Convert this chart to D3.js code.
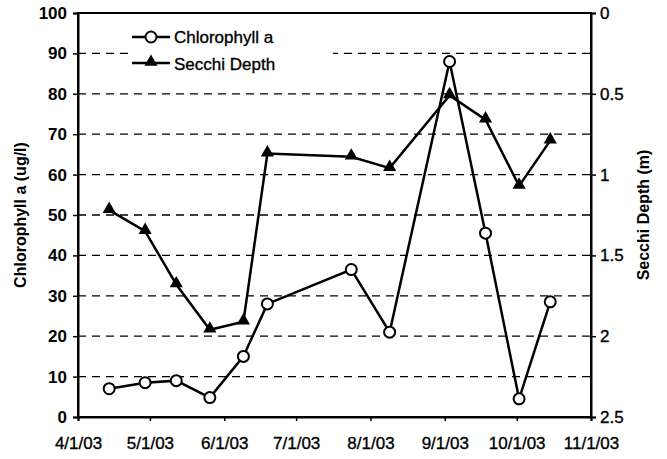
<!DOCTYPE html>
<html>
<head>
<meta charset="utf-8">
<script src="https://cdn.jsdelivr.net/npm/d3@7"></script>
<style>
  body { margin: 0; background: #fff; }
  text { font-family: "Liberation Sans", Arial, sans-serif; }
</style>
</head>
<body>
<div id="chart"></div>
<script>
// sample dates and values
const dates = ["2003-04-14", "2003-04-29", "2003-05-12", "2003-05-26", "2003-06-09", "2003-06-19",
  "2003-07-24", "2003-08-09", "2003-09-03", "2003-09-18", "2003-10-02", "2003-10-15"];
const chlorophyll = [7, 8.5, 9, 4.8, 15, 28, 36.5, 21, 88, 45.5, 4.5, 28.5];
const secchi = [1.22, 1.35, 1.68, 1.96, 1.91, 0.87, 0.89, 0.96, 0.51, 0.66, 1.07, 0.79];
const xTicks = ["2003-04-01", "2003-05-01", "2003-06-01", "2003-07-01", "2003-08-01", "2003-09-01", "2003-10-01", "2003-11-01"];
const leftTicks = [0, 10, 20, 30, 40, 50, 60, 70, 80, 90, 100];
const rightTicks = [0, 0.5, 1, 1.5, 2, 2.5];

const width = 667, height = 459;
const margin = { top: 13, right: 76, bottom: 42, left: 78 };
const parse = d3.timeParse("%Y-%m-%d");
const fmt = d => (d.getMonth() + 1) + "/" + d.getDate() + "/" + String(d.getFullYear()).slice(2);

let svg = d3.select("#chart").append("svg")
  .attr("width", width)
  .attr("height", height);

let x = d3.scaleTime()
  .domain([parse(xTicks[0]), parse(xTicks[xTicks.length - 1])])
  .range([margin.left, width - margin.right]);
let yL = d3.scaleLinear().domain([0, 100]).range([height - margin.bottom, margin.top]);
let yR = d3.scaleLinear().domain([0, 2.5]).range([margin.top, height - margin.bottom]);

// dashed grid
svg.append("g").selectAll("line").data(leftTicks.filter(d => d > 0 && d < 100))
  .enter().append("line")
  .attr("x1", margin.left).attr("x2", width - margin.right)
  .attr("y1", d => yL(d)).attr("y2", d => yL(d))
  .attr("stroke", "#000").attr("stroke-width", 1.3)
  .attr("stroke-dasharray", "8,6");

// frame
svg.append("rect")
  .attr("x", margin.left).attr("y", margin.top)
  .attr("width", width - margin.left - margin.right)
  .attr("height", height - margin.top - margin.bottom)
  .attr("fill", "none").attr("stroke", "#000").attr("stroke-width", 2);

// axes
let axL = svg.append("g").attr("transform", `translate(${margin.left},0)`)
  .call(d3.axisLeft(yL).tickValues(leftTicks).tickSize(5).tickPadding(6));
let axR = svg.append("g").attr("transform", `translate(${width - margin.right},0)`)
  .call(d3.axisRight(yR).tickValues(rightTicks).tickSize(5).tickPadding(4).tickFormat(d3.format("")));
let axB = svg.append("g").attr("transform", `translate(0,${height - margin.bottom})`)
  .call(d3.axisBottom(x).tickValues(xTicks.map(parse)).tickSize(4).tickPadding(16).tickFormat(fmt));
[axL, axR, axB].forEach(a => {
  a.select(".domain").attr("stroke-width", 2);
  a.selectAll(".tick line").attr("stroke-width", 1.5);
  a.selectAll("text").attr("font-size", 17).attr("fill", "#000")
    .attr("stroke", "#000").attr("stroke-width", 0.35)
    .style("font-family", "'Liberation Sans', Arial, sans-serif");
});
axL.selectAll(".tick text").attr("font-weight", "bold").attr("stroke-width", 0);

// axis titles
svg.append("text")
  .attr("transform", `translate(26,${(margin.top + height - margin.bottom) / 2}) rotate(-90)`)
  .attr("text-anchor", "middle").attr("font-size", 16).attr("font-weight", "bold")
  .text("Chlorophyll a (ug/l)");
svg.append("text")
  .attr("transform", `translate(649,${(margin.top + height - margin.bottom) / 2}) rotate(-90)`)
  .attr("text-anchor", "middle").attr("font-size", 16).attr("font-weight", "bold")
  .text("Secchi Depth (m)");

let tri = d3.symbol().type(d3.symbolTriangle).size(75);

// Secchi line
let sData = dates.map((d, i) => [parse(d), secchi[i]]);
svg.append("path").datum(sData)
  .attr("d", d3.line().x(d => x(d[0])).y(d => yR(d[1])))
  .attr("fill", "none").attr("stroke", "#000").attr("stroke-width", 2.5);
svg.append("g").selectAll("path").data(sData).enter().append("path")
  .attr("d", tri)
  .attr("transform", d => `translate(${x(d[0])},${yR(d[1]) - 1})`)
  .attr("fill", "#000");

// Chlorophyll line
let cData = dates.map((d, i) => [parse(d), chlorophyll[i]]);
svg.append("path").datum(cData)
  .attr("d", d3.line().x(d => x(d[0])).y(d => yL(d[1])))
  .attr("fill", "none").attr("stroke", "#000").attr("stroke-width", 2.5);
svg.append("g").selectAll("circle").data(cData).enter().append("circle")
  .attr("cx", d => x(d[0])).attr("cy", d => yL(d[1])).attr("r", 5.5)
  .attr("fill", "#fff").attr("stroke", "#000").attr("stroke-width", 2);

// legend
let lg = svg.append("g");
lg.append("rect").attr("x", 128).attr("y", 24).attr("width", 205).attr("height", 52).attr("fill", "#fff");
lg.append("line").attr("x1", 132).attr("x2", 170).attr("y1", 37).attr("y2", 37)
  .attr("stroke", "#000").attr("stroke-width", 2.5);
lg.append("circle").attr("cx", 151).attr("cy", 37).attr("r", 5.5)
  .attr("fill", "#fff").attr("stroke", "#000").attr("stroke-width", 2);
lg.append("text").attr("x", 174).attr("y", 43).attr("font-size", 17)
  .attr("stroke", "#000").attr("stroke-width", 0.35).text("Chlorophyll a");
lg.append("line").attr("x1", 132).attr("x2", 170).attr("y1", 63).attr("y2", 63)
  .attr("stroke", "#000").attr("stroke-width", 2.5);
lg.append("path").attr("d", tri).attr("transform", "translate(151,62)").attr("fill", "#000");
lg.append("text").attr("x", 174).attr("y", 70).attr("font-size", 17)
  .attr("stroke", "#000").attr("stroke-width", 0.35).text("Secchi Depth");
</script>
</body>
</html>
